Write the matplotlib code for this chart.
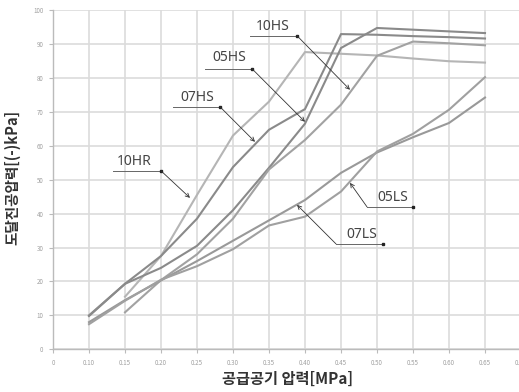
import matplotlib
matplotlib.use("Agg")
import matplotlib.pyplot as plt
import numpy as np

plt.rcParams['font.family'] = ['Noto Sans CJK KR', 'DejaVu Sans']

# category axis: supply pressure labels
x_labels = ['0', '0.10', '0.15', '0.20', '0.25', '0.30', '0.35',
            '0.40', '0.45', '0.50', '0.55', '0.60', '0.65', '0.70']
y_ticks = list(range(0, 101, 10))

# reached vacuum pressure per nozzle type (values at 0.10 ... 0.65 MPa; None = no reading)
hr_10 = [None, 15.5, 27.5, 45.5, 63.0, 73.0, 87.6, 87.1, 86.6, 85.7, 84.9, 84.5]
hs_07 = [10.0, 19.3, 27.5, 38.5, 53.7, 64.7, 70.8, 92.9, 92.7, 92.3, 92.0, 91.6]
hs_05 = [9.8, 19.3, 24.0, 30.5, 41.0, 53.5, 66.5, 88.8, 94.7, 94.2, 93.7, 93.2]
hs_10 = [None, 10.9, 20.4, 28.0, 38.5, 53.0, 61.7, 72.1, 86.5, 90.7, 90.2, 89.6]
ls_07 = [8.0, 14.5, 20.3, 26.0, 32.0, 38.0, 44.0, 52.0, 58.0, 62.5, 66.7, 74.2]
ls_05 = [7.4, 14.3, 20.5, 24.5, 29.5, 36.5, 39.1, 46.5, 58.3, 63.5, 70.6, 80.2]

series = [
    (hr_10, '#b5b5b5'),
    (hs_07, '#8a8a8a'),
    (hs_05, '#8a8a8a'),
    (hs_10, '#a2a2a2'),
    (ls_07, '#999999'),
    (ls_05, '#a0a0a0'),
]

W, H = 519, 392
fig = plt.figure(figsize=(W / 100, H / 100), dpi=100)
ax_left, ax_right, ax_top, ax_bottom = 53, 521, 10, 349.3
ax = fig.add_axes([ax_left / W, 1 - ax_bottom / H,
                   (ax_right - ax_left) / W, (ax_bottom - ax_top) / H])

pos = np.arange(1, 13)
for vals, col in series:
    v = np.array([np.nan if a is None else a for a in vals], dtype=float)
    ax.plot(pos, v, color=col, lw=1.5, solid_joinstyle='round', zorder=3)

ax.set_xlim(0, 13)
ax.set_ylim(0, 100)
ax.set_xticks(range(len(x_labels)))
ax.set_xticklabels(x_labels)
ax.set_yticks(y_ticks)
ax.grid(True, color='#dcdcdc', lw=1.2, zorder=0)
ax.set_axisbelow(True)
for s in ['top', 'right']:
    ax.spines[s].set_visible(False)
for s in ['left', 'bottom']:
    ax.spines[s].set_color('#bbbbbb')
    ax.spines[s].set_linewidth(1.0)
ax.tick_params(axis='both', length=3, width=0.8, color='#bbbbbb',
               labelsize=4.5, labelcolor='#a0a0a0', pad=4)


def px_to_data(px, py):
    return (px - ax_left) / 36.0, (ax_bottom - py) / 3.39


# label text, text centre, underline (x0, x1, y), arrow start, arrow tip (pixels)
labels = [
    ('10HR', (134, 162), (113, 161, 171), (161, 171), (190, 198)),
    ('07HS', (197, 98), (173, 220, 107), (220, 107), (255, 142)),
    ('05HS', (229, 58), (205, 252, 69), (252, 69), (305, 122)),
    ('10HS', (273, 27), (250, 297, 36), (297, 36), (350, 90)),
    ('05LS', (393, 198), (367, 413, 207), (367, 207), (350, 183)),
    ('07LS', (362, 235), (336, 383, 244), (336, 244), (297, 205)),
]
for name, tc, ul, a0, a1 in labels:
    tx, ty = px_to_data(*tc)
    ax.text(tx, ty, name, ha='center', va='center', fontsize=10,
            color='#444444', family=['Noto Sans', 'DejaVu Sans'], zorder=5)
    ux0, uy = px_to_data(ul[0], ul[2])
    ux1, _ = px_to_data(ul[1], ul[2])
    ax.plot([ux0, ux1], [uy, uy], color='#666666', lw=0.7, zorder=5)
    ax.plot([ux1], [uy], marker='s', ms=1.6, color='#222222', zorder=6)
    sx, sy = px_to_data(*a0)
    ex, ey = px_to_data(*a1)
    ax.annotate('', xy=(ex, ey), xytext=(sx, sy),
                arrowprops=dict(arrowstyle='->', color='#333333', lw=0.6,
                                mutation_scale=7, shrinkA=0, shrinkB=0),
                zorder=6)

fig.text(12 / W, 1 - 177 / H, '도달진공압력[(-)kPa]', rotation=90,
         ha='center', va='center', fontsize=10.5, fontweight='bold', color='#333333')
fig.text(288 / W, 1 - 379 / H, '공급공기 압력[MPa]', ha='center', va='center',
         fontsize=11, fontweight='bold', color='#333333')

fig.savefig('out.png', dpi=100)
